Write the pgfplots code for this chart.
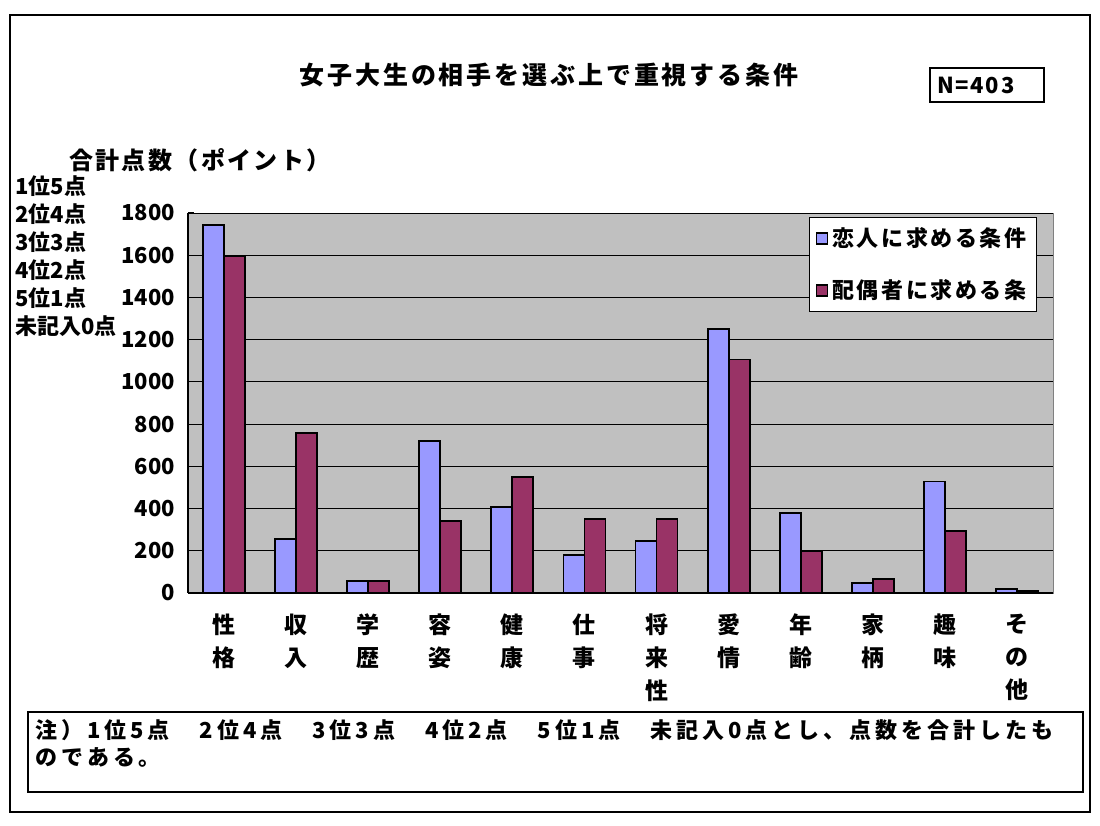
\documentclass[border=0pt]{standalone}
\usepackage{fontspec}
\setmainfont{Noto Sans CJK JP}
\newfontfamily\jpT{Noto Sans CJK JP}[LetterSpace=11.5]
\newfontfamily\jpY{Noto Sans CJK JP}[LetterSpace=10]
\newfontfamily\jpL{Noto Sans CJK JP}[LetterSpace=12]
\newfontfamily\jpN{Noto Sans CJK JP}[LetterSpace=18]
\newfontfamily\jpS{Noto Sans CJK JP}[LetterSpace=8]
\usepackage{pgfplots}
\pgfplotsset{compat=1.18}
\definecolor{cblue}{HTML}{9999FF}
\definecolor{cred}{HTML}{993366}
\definecolor{plotgray}{HTML}{C0C0C0}
\pgfplotstableread{
x koibito haiguusha
0 1745 1598
1 256 758
2 58 58
3 720 341
4 407 551
5 180 350
6 246 350
7 1250 1106
8 379 200
9 47 66
10 528 294
11 20 8
}\datatable
\begin{document}
\begin{tikzpicture}[x=1pt,y=1pt]
\useasboundingbox (0,0) rectangle (550,413);
\draw[line width=0.8pt] (5,7) rectangle (545,405.5);
\node[font=\jpT\fontsize{12.5}{14}\selectfont\bfseries] at (274.5,375.5) {女子大生の相手を選ぶ上で重視する条件};
\draw[line width=0.8pt] (465,362) rectangle (522,379);
\node[anchor=west,font=\jpS\fontsize{11}{13}\selectfont\bfseries] at (465,370.5) {N=403};
\node[anchor=west,font=\jpY\fontsize{12}{14}\selectfont\bfseries] at (31,333) {合計点数（ポイント）};
\foreach \t [count=\i] in {1位5点,2位4点,3位3点,4位2点,5位1点,未記入0点}{
  \node[anchor=west,inner sep=0pt,font=\fontsize{11}{13}\selectfont\bfseries] at (7.5,{334-14*\i}) {\t};
}
\begin{axis}[at={(94pt,116.5pt)}, anchor=south west, scale only axis,
  width=432.5pt, height=190pt,
  ymin=0, ymax=1800, ytick={0,200,...,1800},
  xmin=-0.5, xmax=11.5,
  xtick={0,...,11},
  xticklabels={{性\\格},{収\\入},{学\\歴},{容\\姿},{健\\康},{仕\\事},{将\\来\\性},{愛\\情},{年\\齢},{家\\柄},{趣\\味},{そ\\の\\他}},
  xticklabel style={font=\fontsize{11.5}{16.5}\selectfont\bfseries, align=center, anchor=north, yshift=-4pt},
  yticklabel style={font=\fontsize{11}{13}\selectfont\bfseries, anchor=east, xshift=-3pt},
  /pgf/number format/assume math mode=true,
  /pgf/number format/1000 sep={},
  axis x line*=bottom, axis y line*=left,
  axis line style={black, line width=0.8pt, -},
  axis background/.style={fill=plotgray, draw=gray},
  x tick style={draw=none},
  y tick style={black, line width=0.6pt},
  tick align=inside, major tick length=3pt,
  extra x ticks={0.5,1.5,...,10.5}, extra x tick labels={},
  extra x tick style={major tick length=4pt, tick style={draw=black, line width=0.6pt}},
  ymajorgrids, grid style={black, line width=0.5pt},
  ybar=0pt, bar width=10.5pt,
  legend style={at={(0.9815,0.9895)}, anchor=north east, draw=black, fill=white,
    font=\jpL\fontsize{11}{13}\selectfont\bfseries, row sep=11pt, inner xsep=3pt, inner ysep=3pt,
    cells={anchor=west}},
  legend image code/.code={\draw[#1, draw=black, line width=0.7pt] (0pt,-2.8pt) rectangle (5.6pt,2.8pt);},
]
\addplot[fill=cblue, draw=black, line width=0.9pt] table[x=x, y=koibito] {\datatable};
\addplot[fill=cred, draw=black, line width=0.9pt] table[x=x, y=haiguusha] {\datatable};
\legend{恋人に求める条件, 配偶者に求める条}
\end{axis}
\draw[line width=0.8pt] (14,17) rectangle (541.5,57);
\node[anchor=west,inner sep=0pt,font=\jpN\fontsize{11}{13}\selectfont\bfseries] at (17.5,48) {注）1位5点　2位4点　3位3点　4位2点　5位1点　未記入0点とし、点数を合計したも};
\node[anchor=west,inner sep=0pt,font=\jpN\fontsize{11}{13}\selectfont\bfseries] at (17.5,34.5) {のである。};
\end{tikzpicture}
\end{document}
